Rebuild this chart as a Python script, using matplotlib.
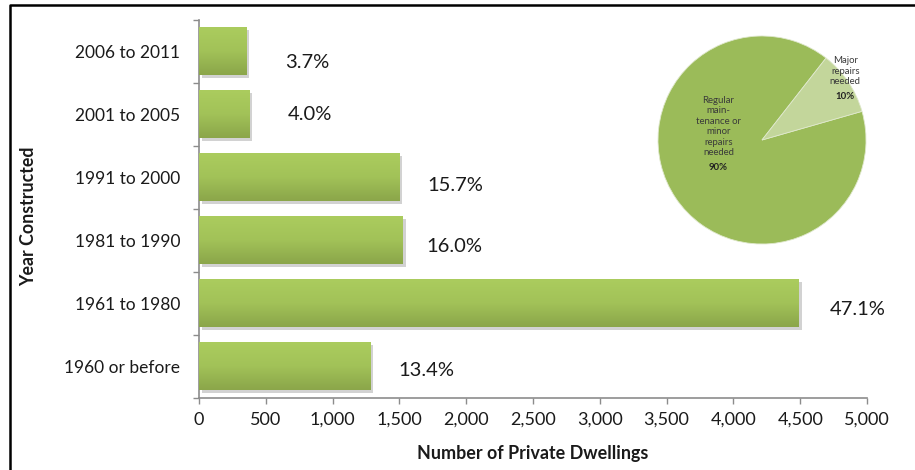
import numpy as np
import matplotlib
matplotlib.use("Agg")
import matplotlib.pyplot as plt
import matplotlib.patheffects as pe
from matplotlib.colors import LinearSegmentedColormap
from matplotlib.lines import Line2D

plt.rcParams['font.family'] = ['Lato', 'DejaVu Sans']

# ---- data ----
categories = ["1960 or before", "1961 to 1980", "1981 to 1990",
              "1991 to 2000", "2001 to 2005", "2006 to 2011"]
dwellings = [1280, 4490, 1525, 1500, 377, 352]
shares = ["13.4%", "47.1%", "16.0%", "15.7%", "4.0%", "3.7%"]
xticks = [0, 500, 1000, 1500, 2000, 2500, 3000, 3500, 4000, 4500, 5000]

repair_labels = ["Regular\nmain-\ntenance or\nminor\nrepairs\nneeded", "Major\nrepairs\nneeded"]
repair_shares = [90, 10]

# label nudges (pixels right, pixels down) for the percentage annotations
label_dx = [28, 31, 24, 28, 38, 39]
label_dy = [4, 6, 6, 8, 0, 11]

W, H = 915, 470
fig = plt.figure(figsize=(W / 100, H / 100), dpi=100)
fig.patch.set_facecolor("white")

# ---- bar chart ----
ax = fig.add_axes([199 / W, 1 - 398 / H, (867 - 199) / W, (398 - 20) / H])
y = np.arange(len(categories))
bars = ax.barh(y, dwellings, height=0.76, color="#9dbd55", zorder=2,
               path_effects=[pe.SimplePatchShadow(offset=(2, -2), shadow_rgbFace="#808080", alpha=0.35),
                             pe.Normal()])

grad = LinearSegmentedColormap.from_list("barfill", ["#8ba64a", "#a2c258", "#abcc5e"])
gvals = np.linspace(0, 1, 64).reshape(-1, 1)
for b in bars:
    x0, y0, w, h = b.get_x(), b.get_y(), b.get_width(), b.get_height()
    ax.imshow(gvals, cmap=grad, origin="lower", aspect="auto",
              extent=(x0, x0 + w, y0, y0 + h), zorder=3, interpolation="bilinear")
ax.set_aspect("auto")
ax.set_xlim(0, 5000)
ax.set_ylim(-0.5, len(categories) - 0.5)

for i, (v, s) in enumerate(zip(dwellings, shares)):
    ax.annotate(s, xy=(v, i), xytext=(label_dx[i] * 0.72, -label_dy[i] * 0.72),
                textcoords="offset points", ha="left", va="center",
                fontsize=14.5, color="#1a1a1a", zorder=4)

for side in ("top", "right"):
    ax.spines[side].set_visible(False)
for side in ("left", "bottom"):
    ax.spines[side].set_color("#8c8c8c")
    ax.spines[side].set_linewidth(1.2)

ax.set_yticks(y)
ax.set_yticklabels(categories, fontsize=12.5, color="#1a1a1a")
ax.tick_params(axis="y", which="major", length=0, pad=13.5)
ax.set_yticks(np.arange(-0.5, len(categories)), minor=True)
ax.tick_params(axis="y", which="minor", length=4, width=1, color="#8c8c8c", direction="out")

ax.set_xticks(xticks)
ax.set_xticklabels([f"{t:,}" for t in xticks], fontsize=13, color="#1a1a1a")
ax.tick_params(axis="x", length=4, width=1, color="#8c8c8c", pad=6)

ax.set_xlabel("Number of Private Dwellings", fontsize=12.9, fontweight="bold",
              color="#1a1a1a", labelpad=12)
fig.text(29 / W, 1 - 216 / H, "Year Constructed", rotation=90, fontsize=12.8,
         fontweight="bold", color="#1a1a1a", ha="center", va="center")

# ---- inset pie ----
R = 104
pax = fig.add_axes([(762 - R) / W, 1 - (140 + R) / H, 2 * R / W, 2 * R / H])
wedges, _ = pax.pie(repair_shares, colors=["#9bbb59", "#c3d69b"], startangle=16,
                    counterclock=False,
                    wedgeprops=dict(edgecolor="#dfe8cc", linewidth=0.6))
pax.set_aspect("equal")
pax.set_xlim(-1.0, 1.0)
pax.set_ylim(-1.0, 1.0)
pax.axis("off")

pax.text(-0.42, 0.13, repair_labels[0], ha="center", va="center",
         fontsize=6.9, color="#3a3a3a", linespacing=1.2)
pax.text(-0.42, -0.26, f"{repair_shares[0]}%", ha="center", va="center",
         fontsize=6.9, color="#222222", fontweight="bold")
pax.text(0.80, 0.66, repair_labels[1], ha="center", va="center",
         fontsize=6.9, color="#3a3a3a", linespacing=1.2)
pax.text(0.80, 0.42, f"{repair_shares[1]}%", ha="center", va="center",
         fontsize=6.9, color="#222222", fontweight="bold")

# ---- frame lines along left and top ----
fig.add_artist(Line2D([10 / W, 10 / W, 1.0], [0.0, 1 - 5 / H, 1 - 5 / H],
                      transform=fig.transFigure, color="black", linewidth=1.8))

fig.savefig("out.png", dpi=100, facecolor="white")
